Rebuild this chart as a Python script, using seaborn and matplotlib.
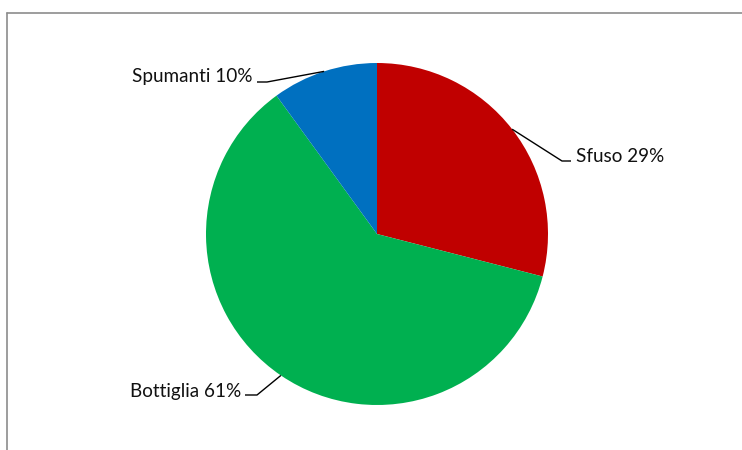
import matplotlib
matplotlib.use("Agg")
import matplotlib.pyplot as plt
import seaborn as sns
import numpy as np
from matplotlib.lines import Line2D

sns.set_theme(style="white")
plt.rcParams["font.family"] = ["Lato", "DejaVu Sans"]

# Wine sales split
categories = ["Sfuso", "Bottiglia", "Spumanti"]
shares = [29, 61, 10]
colors = ["#C00000", "#00B050", "#0070C0"]

W, H = 742, 450
fig = plt.figure(figsize=(W / 100, H / 100), dpi=100)
fig.patch.set_facecolor("white")

# Axes spanning the whole figure, scaled so one data unit = the pie radius in px
cx, cy, R = 377, 234, 171
ax = fig.add_axes([0, 0, 1, 1])

wedges, _ = ax.pie(shares, colors=colors, startangle=90, counterclock=False,
                   radius=1.0, center=(0, 0),
                   wedgeprops=dict(linewidth=0))
ax.set_xlim(-cx / R, (W - cx) / R)
ax.set_ylim(-(H - cy) / R, cy / R)
ax.set_aspect("equal")
ax.axis("off")

def px(x, y):
    return ((x - cx) / R, (cy - y) / R)

# label layout: (elbow px, leader end px, text anchor px, ha)
layout = {
    "Sfuso": ((562, 161), (571, 161), (576, 156), "left"),
    "Bottiglia": ((257, 395), (245, 395), (241, 391), "right"),
    "Spumanti": ((267, 82), (257, 82), (253, 76), "right"),
}

for w, name, val in zip(wedges, categories, shares):
    mid = np.deg2rad((w.theta1 + w.theta2) / 2)
    sx, sy = np.cos(mid), np.sin(mid)
    elbow, end, txt, ha = layout[name]
    ex, ey = px(*elbow)
    nx, ny = px(*end)
    ax.plot([sx, ex, nx], [sy, ey, ny], color="black", lw=1.0,
            solid_capstyle="butt", clip_on=False)
    tx, ty = px(*txt)
    ax.text(tx, ty, f"{name} {val}%", ha=ha, va="center", fontsize=13.6,
            color="#111111")

# outer chart frame (left and top edges visible)
fig.add_artist(Line2D([7.5 / W, 7.5 / W], [0, 1 - 12.5 / H],
                      transform=fig.transFigure, color="#8c8c8c", lw=1.2))
fig.add_artist(Line2D([7.5 / W, 1], [1 - 12.5 / H, 1 - 12.5 / H],
                      transform=fig.transFigure, color="#8c8c8c", lw=1.2))

fig.savefig("out.png", dpi=100, facecolor="white")
